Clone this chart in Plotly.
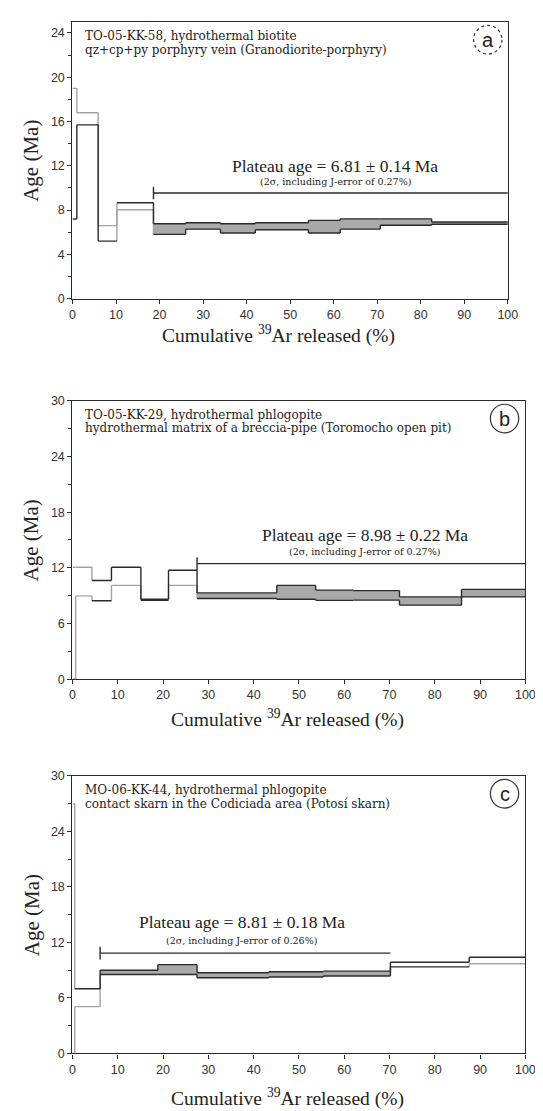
import plotly.graph_objects as go

# ---------------- data ----------------
# Panel a: TO-05-KK-58
edges_a = [0, 1.0, 5.9, 10.2, 18.6, 26.0, 34.0, 42.0, 54.2, 61.5, 70.7, 82.5, 100]
lo_a = [7.2, 15.7, 5.2, 8.03, 5.81, 6.28, 5.93, 6.22, 5.93, 6.28, 6.63, 6.72]
hi_a = [19.0, 16.8, 6.6, 8.67, 6.77, 6.86, 6.77, 6.86, 7.07, 7.21, 7.21, 6.92]
plat_a = [False, False, False, False, True, True, True, True, True, True, True, True]
plateau_line_a = [18.6, 100, 9.55]

# Panel b: TO-05-KK-29
edges_b = [0, 0.7, 4.3, 8.6, 15.1, 21.2, 27.5, 45.1, 53.7, 62.0, 72.2, 85.9, 100]
lo_b = [0.0, 8.98, 8.45, 10.11, 8.5, 10.11, 8.69, 8.62, 8.5, 8.52, 7.98, 8.87]
hi_b = [12.06, 12.06, 10.64, 12.06, 8.62, 11.74, 9.3, 10.11, 9.6, 9.55, 8.87, 9.68]
plat_b = [False, False, False, False, False, False, True, True, True, True, True, True]
plateau_line_b = [27.5, 100, 12.45]

# Panel c: MO-06-KK-44
edges_c = [0, 0.5, 6.1, 18.85, 27.5, 43.35, 55.4, 70.2, 87.6, 100]
lo_c = [0.0, 5.06, 8.54, 8.54, 8.19, 8.26, 8.37, 9.36, 9.7]
hi_c = [27.0, 7.0, 9.0, 9.6, 8.72, 8.83, 8.9, 9.86, 10.4]
plat_c = [False, False, True, True, True, True, True, False, False]
plateau_line_c = [6.1, 70.2, 10.85]

x_ticks = [0, 10, 20, 30, 40, 50, 60, 70, 80, 90, 100]

titles = {
    "a": ["TO-05-KK-58, hydrothermal biotite", "qz+cp+py porphyry vein (Granodiorite-porphyry)"],
    "b": ["TO-05-KK-29, hydrothermal phlogopite", "hydrothermal matrix of a breccia-pipe (Toromocho open pit)"],
    "c": ["MO-06-KK-44, hydrothermal phlogopite", "contact skarn in the Codiciada area (Potosí skarn)"],
}
plateau_txt = {
    "a": ["Plateau age = 6.81 ± 0.14 Ma", "(2σ, including J-error of 0.27%)"],
    "b": ["Plateau age = 8.98 ± 0.22 Ma", "(2σ, including J-error of 0.27%)"],
    "c": ["Plateau age = 8.81 ± 0.18 Ma", "(2σ, including J-error of 0.26%)"],
}

# ---------------- styles ----------------
DARK = "#2a2a2a"
GRAY = "#a3a3a3"
FILL = "#a9a9a9"
top_style = {
    "a": ["g", "g", "g", "d", "d", "d", "d", "d", "d", "d", "d", "d"],
    "b": ["g", "g", "d", "d", "d", "d", "d", "d", "d", "d", "d", "d"],
    "c": ["g", "d", "d", "d", "d", "d", "d", "d", "d"],
}
bot_style = {
    "a": ["d", "d", "d", "g", "d", "d", "d", "d", "d", "d", "d", "d"],
    "b": ["g", "g", "d", "g", "d", "g", "d", "d", "d", "d", "d", "d"],
    "c": ["g", "g", "d", "d", "d", "d", "d", "d", "g"],
}

W, H = 543, 1111
panels = {
    # name: (xleft, xright, ytop, ybottom) in px, y max
    "a": (63, 509, 7.0, 287.3, 25),
    "b": (63, 527, 390.7, 672.7, 30),
    "c": (63, 527, 770.7, 1051.7, 30),
}
xtitle_off = {"a": 36, "b": 40, "c": 45}
axis_ids = {"a": ("x", "y"), "b": ("x2", "y2"), "c": ("x3", "y3")}
data = {
    "a": (edges_a, lo_a, hi_a, plat_a, plateau_line_a),
    "b": (edges_b, lo_b, hi_b, plat_b, plateau_line_b),
    "c": (edges_c, lo_c, hi_c, plat_c, plateau_line_c),
}

fig = go.Figure()
annotations = []
shapes = []
layout_axes = {}

serif = "Liberation Serif, Times New Roman, serif"
wserif = "DejaVu Serif, serif"
sans = "Liberation Sans, Arial, sans-serif"

for key in ["a", "b", "c"]:
    xl, xr, yt, yb, ymax = panels[key]
    xa, ya = axis_ids[key]
    edges, lo, hi, plat, pline = data[key]
    n = len(lo)

    # plateau fills
    fx, fy = [], []
    for i in range(n):
        if plat[i]:
            x0, x1 = edges[i], edges[i + 1]
            fx += [x0, x1, x1, x0, x0, None]
            fy += [lo[i], lo[i], hi[i], hi[i], lo[i], None]
    fig.add_trace(go.Scatter(x=fx, y=fy, fill="toself", fillcolor=FILL, mode="lines",
                             line=dict(width=0), hoverinfo="skip", xaxis=xa, yaxis=ya))

    segs = {"d": ([], []), "g": ([], [])}
    for i in range(n):
        x0, x1 = edges[i], edges[i + 1]
        for vals, sty in ((hi, top_style[key]), (lo, bot_style[key])):
            sx, sy = segs[sty[i]]
            sx += [x0, x1, None]
            sy += [vals[i], vals[i], None]
            if i > 0:
                c = "g" if (sty[i] == "g" or sty[i - 1] == "g") else "d"
                vx, vy = segs[c]
                vx += [x0, x0, None]
                vy += [vals[i - 1], vals[i], None]
    for sty, col in (("g", GRAY), ("d", DARK)):
        sx, sy = segs[sty]
        fig.add_trace(go.Scatter(x=sx, y=sy, mode="lines", line=dict(color=col, width=1.4),
                                 hoverinfo="skip", xaxis=xa, yaxis=ya))

    # plateau line
    fig.add_trace(go.Scatter(x=[pline[0], pline[1]], y=[pline[2], pline[2]], mode="lines",
                             line=dict(color=DARK, width=1.4), xaxis=xa, yaxis=ya, hoverinfo="skip"))
    fig.add_trace(go.Scatter(x=[pline[0]], y=[pline[2]], mode="markers",
                             marker=dict(symbol="line-ns-open", size=9, color=DARK,
                                         line=dict(color=DARK, width=1.4)),
                             xaxis=xa, yaxis=ya, hoverinfo="skip"))

    xdom = [xl / W, xr / W]
    ydom = [1 - yb / H, 1 - yt / H]
    axname_x = "xaxis" if xa == "x" else "xaxis" + xa[1:]
    axname_y = "yaxis" if ya == "y" else "yaxis" + ya[1:]
    ytick_major = 4 if ymax == 25 else 6
    layout_axes[axname_x] = dict(
        domain=xdom, anchor=ya, range=[0, 100], tickvals=x_ticks,
        ticks="outside", ticklen=4, tickwidth=1.2, tickcolor=DARK,
        showline=True, linecolor=DARK, linewidth=1.4, mirror=True,
        showgrid=False, zeroline=False,
        tickfont=dict(family=sans, size=12.5, color="#333"),
    )
    layout_axes[axname_y] = dict(
        domain=ydom, anchor=xa, range=[0, ymax], dtick=ytick_major, tick0=0,
        ticks="outside", ticklen=4, tickwidth=1.2, tickcolor=DARK,
        minor=dict(dtick=ytick_major / 2, ticks="outside", ticklen=3, tickcolor=DARK, tickwidth=1),
        showline=True, linecolor=DARK, linewidth=1.4, mirror=True,
        showgrid=False, zeroline=False,
        tickfont=dict(family=sans, size=12.5, color="#333"),
    )

    ph = yb - yt
    pw = xr - xl
    xd_ref = xa + " domain"
    yd_ref = ya + " domain"

    # sample titles
    annotations.append(dict(x=0.024, y=1 - 14.5 / ph, xref=xd_ref, yref=yd_ref, text=titles[key][0],
                            showarrow=False, xanchor="left", yanchor="middle",
                            font=dict(family=wserif, size=12, color="#222")))
    annotations.append(dict(x=0.024, y=1 - 28 / ph, xref=xd_ref, yref=yd_ref, text=titles[key][1],
                            showarrow=False, xanchor="left", yanchor="middle",
                            font=dict(family=wserif, size=12, color="#222")))

    # plateau text
    pcx = {"a": 0.604, "b": 0.645, "c": 0.374}[key]
    off_main = {"a": 27, "b": 29, "c": 32}[key]
    off_sub = {"a": 12, "b": 12, "c": 13}[key]
    yline = pline[2] / ymax
    annotations.append(dict(x=pcx, y=yline + off_main / ph, xref=xd_ref, yref=yd_ref,
                            text=plateau_txt[key][0], showarrow=False, xanchor="center", yanchor="middle",
                            font=dict(family=serif, size=17.5, color="#222")))
    annotations.append(dict(x=pcx, y=yline + off_sub / ph, xref=xd_ref, yref=yd_ref,
                            text=plateau_txt[key][1], showarrow=False, xanchor="center", yanchor="middle",
                            font=dict(family=wserif, size=9.5, color="#222")))

    # axis titles
    annotations.append(dict(x=((xl + xr) / 2 - 12) / W, y=1 - (yb + xtitle_off[key]) / H,
                            xref="paper", yref="paper",
                            text="Cumulative <sup>39</sup>Ar released (%)", showarrow=False,
                            xanchor="center", yanchor="middle",
                            font=dict(family=serif, size=19.5, color="#222")))
    annotations.append(dict(x=21 / W, y=1 - (yt + yb) / 2 / H, xref="paper", yref="paper",
                            text="Age (Ma)", showarrow=False, textangle=-90,
                            xanchor="center", yanchor="middle",
                            font=dict(family=serif, size=21, color="#222")))

    # panel letter in circle
    ccx = xl + 0.954 * pw
    ccy = yt + 18
    r = 14.5
    shapes.append(dict(type="circle", xref="paper", yref="paper",
                       x0=(ccx - r) / W, x1=(ccx + r) / W, y0=1 - (ccy + r) / H, y1=1 - (ccy - r) / H,
                       line=dict(color="#333", width=1.2, dash="dot" if key == "a" else "solid")))
    annotations.append(dict(x=ccx / W, y=1 - ccy / H, xref="paper", yref="paper", text=key,
                            showarrow=False, xanchor="center", yanchor="middle",
                            font=dict(family=sans, size=20, color="#222")))

fig.update_layout(
    width=W, height=H, margin=dict(l=0, r=0, t=0, b=0),
    paper_bgcolor="white", plot_bgcolor="white", showlegend=False,
    annotations=annotations, shapes=shapes, **layout_axes,
)

fig.write_html("out.html")
